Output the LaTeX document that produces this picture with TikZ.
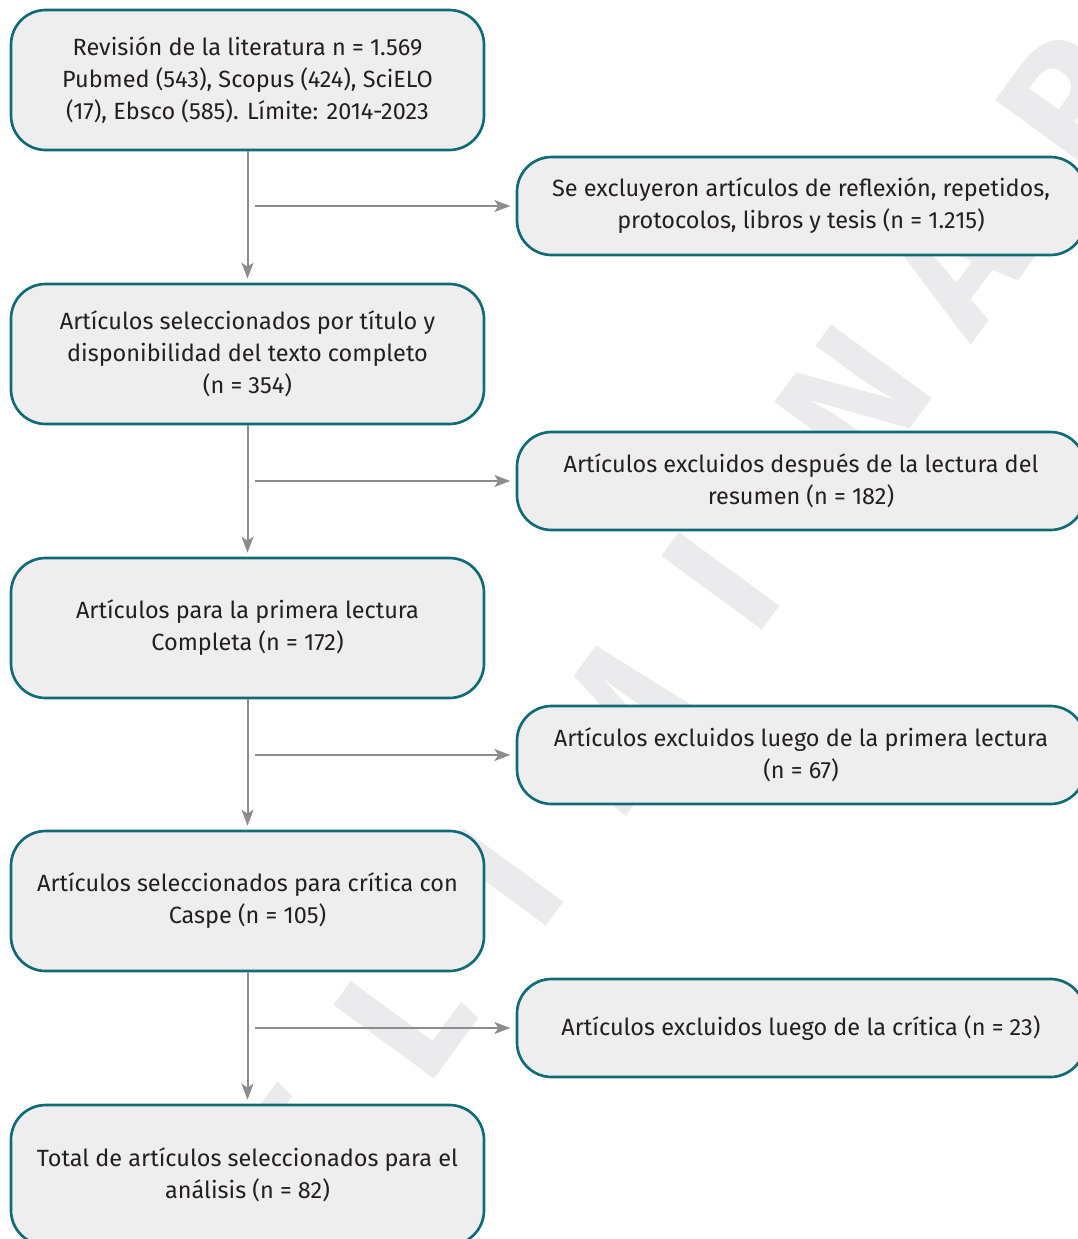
\documentclass[tikz,border=0pt]{standalone}
\usepackage{fontspec}
\setmainfont{Fira Sans}
\usetikzlibrary{arrows.meta}
\definecolor{boxline}{HTML}{106B77}
\definecolor{boxfill}{HTML}{EEEEEF}
\definecolor{arrowgray}{HTML}{8C8C8C}
\definecolor{inkgray}{HTML}{231F20}
\definecolor{markgray}{HTML}{EBEBED}
\begin{document}
\begin{tikzpicture}[x=0.75pt,y=-0.75pt,
	stagebox/.style={draw=boxline, line width=2pt, fill=boxfill, rounded corners=26pt,
		minimum width=354.75pt, minimum height=105pt, align=center, text=inkgray,
		font=\fontsize{17.6}{24}\selectfont},
	dropbox/.style={stagebox, minimum width=426pt, minimum height=73.5pt},
	flow/.style={draw=arrowgray, line width=1.5pt, -{Stealth[length=12pt,width=9pt,inset=3pt]}},
	wmark/.style={text=markgray, font=\fontsize{135}{135}\selectfont\bfseries, rotate=53.8}]
		\def \lx{247.5}
		\def \rx{801}
		\clip (0,0) rectangle (1078,1239);
		% marca de agua
		\foreach \ch/\s [count=\i] in {P/-1090, R/-920, E/-750, L/-580, I/-411, M/-225, I/-44, N/180, A/350, R/550}
			\node[wmark] (w\i) at ({747+0.59*\s}, {546-0.807*\s}) {\ch};
		% columna principal
		\node[stagebox] (lit) at (\lx, 80) {Revisión de la literatura n = 1.569\\Pubmed (543), Scopus (424), SciELO\\(17), Ebsco (585). Límite: 2014-2023};
		\node[stagebox] (sel) at (\lx, 354) {Artículos seleccionados por título y\\disponibilidad del texto completo\\(n = 354)};
		\node[stagebox] (prim) at (\lx, 628) {Artículos para la primera lectura\\Completa (n = 172)};
		\node[stagebox] (crit) at (\lx, 901) {Artículos seleccionados para crítica con\\Caspe (n = 105)};
		\node[stagebox] (total) at (\lx, 1175) {Total de artículos seleccionados para el\\análisis (n = 82)};
		% excluidos
		\node[dropbox] (exrep) at (\rx, 206) {Se excluyeron artículos de reflexión, repetidos,\\protocolos, libros y tesis (n = 1.215)};
		\node[dropbox] (exres) at (\rx, 481) {Artículos excluidos después de la lectura del\\resumen (n = 182)};
		\node[dropbox] (exprim) at (\rx, 755) {Artículos excluidos luego de la primera lectura\\(n = 67)};
		\node[dropbox] (excrit) at (\rx, 1028) {Artículos excluidos luego de la crítica (n = 23)};
		% flechas
		\draw[flow, shorten >=3pt] (lit) -- (sel);
		\draw[flow, shorten >=3pt] (sel) -- (prim);
		\draw[flow, shorten >=3pt] (prim) -- (crit);
		\draw[flow, shorten >=3pt] (crit) -- (total);
		\draw[flow, shorten >=4pt] ([xshift=5.25pt]lit.south |- exrep.west) -- (exrep.west);
		\draw[flow, shorten >=4pt] ([xshift=5.25pt]sel.south |- exres.west) -- (exres.west);
		\draw[flow, shorten >=4pt] ([xshift=5.25pt]prim.south |- exprim.west) -- (exprim.west);
		\draw[flow, shorten >=4pt] ([xshift=5.25pt]crit.south |- excrit.west) -- (excrit.west);
	\end{tikzpicture}
\end{document}
